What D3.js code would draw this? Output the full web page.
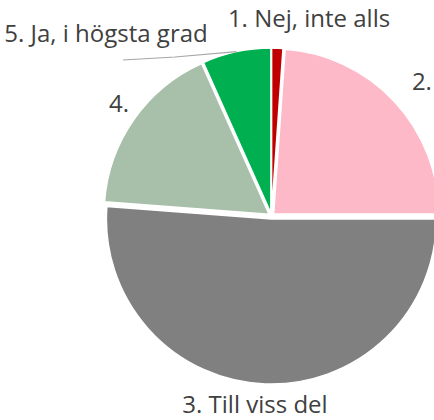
<!DOCTYPE html>
<html>
<head>
<meta charset="utf-8">
<script src="https://cdn.jsdelivr.net/npm/d3@7"></script>
<style>
  html, body { margin: 0; padding: 0; background: #ffffff; }
  svg { display: block; }
  text { font-family: "Open Sans", "Liberation Sans", Arial, sans-serif; fill: #404040; }
</style>
</head>
<body>
<svg id="chart" width="434" height="420"></svg>
<script>
// Survey answers, share of respondents (%)
const categories = ["1. Nej, inte alls", "2.", "3. Till viss del", "4.", "5. Ja, i högsta grad"];
const shares = [1.1, 23.9, 51.2, 17.1, 6.7];
const colors = ["#C00000", "#FDB9C8", "#808080", "#A8BFA9", "#00B050"];

const width = 434, height = 420;
const cx = 271.5, cy = 216;
const radius = 165;
const explode = 3;        // outward shift of every slice
const labelFont = 24;

const svg = d3.select("#chart");

const pie = d3.pie().sort(null).value(d => d)(shares);
const arc = d3.arc().innerRadius(0).outerRadius(radius);

const g = svg.append("g").attr("transform", `translate(${cx},${cy})`);

// slice direction helper (d3 angles run clockwise from 12 o'clock)
const dir = a => [Math.sin(a), -Math.cos(a)];
const mid = d => (d.startAngle + d.endAngle) / 2;

g.selectAll("path.slice")
  .data(pie)
  .join("path")
  .attr("class", "slice")
  .attr("d", arc)
  .attr("fill", (d, i) => colors[i])
  .attr("stroke", "#ffffff")
  .attr("stroke-width", 1.5)
  .attr("transform", d => {
    const [ux, uy] = dir(mid(d));
    return `translate(${ux * explode},${uy * explode})`;
  });

// label placement: along each slice's middle direction, small slices nudged clear
const labelRadius = [200, 203, 187, 190, 0];
const nudge = [[30.6, 10.9], [2, 12.5], [-9.5, 10], [3, 5.3], [0, 0]];

const labels = g.selectAll("text.lbl")
  .data(pie)
  .join("text")
  .attr("class", "lbl")
  .attr("font-size", labelFont)
  .attr("text-anchor", "middle")
  .text((d, i) => categories[i]);

labels.each(function (d, i) {
  const [ux, uy] = dir(mid(d));
  let x = ux * labelRadius[i] + nudge[i][0];
  let y = uy * labelRadius[i] + nudge[i][1];
  if (i === 4) {
    // the narrow top slice gets its label pushed out to the upper left
    x = -165.5; y = -174;
  }
  d3.select(this).attr("x", x).attr("y", y);
});

// leader line from the label of the last slice to its outer edge
const last = pie[4];
const [lx, ly] = dir(mid(last));
const tip = [lx * (radius + 3), ly * (radius + 3)];
const start = [-148.5, -156];
const line = d3.line().curve(d3.curveLinear);
g.append("path")
  .attr("d", line([start, [start[0] + 52, start[1] - 3], tip]))
  .attr("fill", "none")
  .attr("stroke", "#A6A6A6")
  .attr("stroke-width", 1.2);
</script>
</body>
</html>
